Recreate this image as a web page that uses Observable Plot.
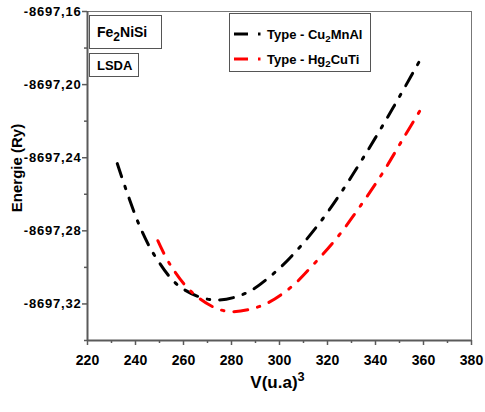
<!DOCTYPE html>
<html>
<head>
<meta charset="utf-8">
<script src="https://cdn.jsdelivr.net/npm/d3@7"></script>
<script src="https://cdn.jsdelivr.net/npm/@observablehq/plot@0.6"></script>
<style>
  html, body { margin: 0; padding: 0; background: #fff; }
  #wrap { position: relative; width: 485px; height: 412px; font-family: "Liberation Sans", Arial, sans-serif; font-weight: bold; }
  .box { position: absolute; border: 1px solid #555; background: #fff; color: #000; box-sizing: border-box; }
  .legrow { position: absolute; left: 0; display: flex; align-items: center; font-size: 13px; }
  .legrow svg { display: block; }
  sub { font-size: 0.75em; vertical-align: -0.35em; line-height: 0; }
</style>
</head>
<body>
<div id="wrap"></div>
<script>
// Data
const cuV = [232.4, 241.7, 248.75, 258.5, 272.2, 285.8, 297.6, 308.0, 317.8, 326.8, 335.1, 343.5, 351.5, 359.5];
const cuE = [-8697.2432, -8697.2773, -8697.2951, -8697.3106, -8697.3178, -8697.3142, -8697.3033, -8697.2896, -8697.2738, -8697.2568, -8697.2396, -8697.2213, -8697.2031, -8697.1844];
const hgV = [249.3, 254.3, 264.0, 277.1, 291.4, 303.9, 314.3, 324.5, 333.75, 342.8, 351.1, 359.2];
const hgE = [-8697.2854, -8697.2982, -8697.3142, -8697.3238, -8697.3215, -8697.3118, -8697.2982, -8697.2829, -8697.2663, -8697.2487, -8697.2305, -8697.2128];
const xTicks = [220, 240, 260, 280, 300, 320, 340, 360, 380];
const xMinor = [230, 250, 270, 290, 310, 330, 350, 370];
const yTicks = [-8697.32, -8697.28, -8697.24, -8697.20, -8697.16];
const yMinor = [-8697.34, -8697.30, -8697.26, -8697.22, -8697.18];
const seriesNames = ["Type - Cu2MnAl", "Type - Hg2CuTi"];
const seriesColors = ["#000000", "#ff0000"];

const cu = cuV.map((v, i) => ({V: v, E: cuE[i]}));
const hg = hgV.map((v, i) => ({V: v, E: hgE[i]}));
const dash = "14,10,2.5,10";
const axisColor = "#5a5a5a";

const chart = Plot.plot({
  width: 485,
  height: 412,
  marginLeft: 87,
  marginRight: 14,
  marginTop: 11,
  marginBottom: 72,
  style: {fontFamily: "'Liberation Sans', Arial, sans-serif", fontWeight: "bold", background: "#fff", overflow: "visible"},
  x: {domain: [220, 380]},
  y: {domain: [-8697.34, -8697.16]},
  marks: [
    Plot.frame({stroke: "#777", strokeWidth: 1}),
    Plot.line(cu, {x: "V", y: "E", stroke: seriesColors[0], strokeWidth: 3, strokeDasharray: dash, curve: "catmull-rom"}),
    Plot.line(hg, {x: "V", y: "E", stroke: seriesColors[1], strokeWidth: 3, strokeDasharray: dash, curve: "catmull-rom"}),
    Plot.axisX({ticks: xTicks, tickSize: 5, tickPadding: 10, stroke: axisColor, strokeWidth: 1.5, fill: "#000", fontSize: 14, label: null, tickFormat: d => String(d)}),
    Plot.axisX({ticks: xMinor, tickSize: 3, stroke: axisColor, strokeWidth: 1.5, text: null, label: null}),
    Plot.axisY({ticks: yTicks, tickSize: 5, tickPadding: 1, stroke: axisColor, strokeWidth: 1.5, fill: "#000", fontSize: 13, label: null, tickFormat: d => d.toFixed(2).replace(".", ",")}),
    Plot.axisY({ticks: yMinor, tickSize: 3, stroke: axisColor, strokeWidth: 1.5, text: null, label: null}),
    Plot.ruleX([220], {stroke: axisColor, strokeWidth: 2}),
    Plot.ruleY([-8697.34], {stroke: axisColor, strokeWidth: 2})
  ]
});
const wrap = document.getElementById("wrap");
wrap.appendChild(chart);
// slight letter spacing on y tick labels to match the wide reference type
chart.querySelectorAll("g[aria-label='y-axis tick label'] text").forEach(t => t.setAttribute("letter-spacing", "0.8"));

// Axis titles
const xl = document.createElement("div");
xl.style.cssText = "position:absolute;left:0;width:555px;top:373px;text-align:center;font-size:17px;";
xl.innerHTML = "V(u.a)<sup style='font-size:0.75em;vertical-align:0.55em;line-height:0'>3</sup>";
wrap.appendChild(xl);
const yl = document.createElement("div");
yl.style.cssText = "position:absolute;left:16px;top:168px;transform:translate(-50%,-50%) rotate(-90deg);white-space:nowrap;font-size:15px;";
yl.textContent = "Energie (Ry)";
wrap.appendChild(yl);

// Annotation boxes
const b1 = document.createElement("div");
b1.className = "box";
b1.style.cssText += "left:89px;top:15px;width:73px;height:34px;font-size:14px;padding:8px 0 0 7px;";
b1.innerHTML = "Fe<sub style='font-size:12px;vertical-align:-0.3em'>2</sub>NiSi";
wrap.appendChild(b1);
const b2 = document.createElement("div");
b2.className = "box";
b2.style.cssText += "left:89px;top:53px;width:50px;height:24px;font-size:13px;padding:4px 0 0 7px;";
b2.textContent = "LSDA";
wrap.appendChild(b2);

// Legend
const leg = document.createElement("div");
leg.className = "box";
leg.style.cssText += "left:229px;top:13px;width:142px;height:59px;";
const labelsHtml = ["Type - Cu<sub>2</sub>MnAl", "Type - Hg<sub>2</sub>CuTi"];
[20, 45].forEach((cy, i) => {
  const row = document.createElement("div");
  row.className = "legrow";
  row.style.top = (cy - 10) + "px";
  row.style.height = "20px";
  row.innerHTML = `<svg width="37" height="20"><line x1="4" x2="33" y1="10" y2="10" stroke="${seriesColors[i]}" stroke-width="3" stroke-dasharray="14,10,2.5,10"/></svg><span style="margin-left:0">${labelsHtml[i]}</span>`;
  leg.appendChild(row);
});
wrap.appendChild(leg);
</script>
</body>
</html>
